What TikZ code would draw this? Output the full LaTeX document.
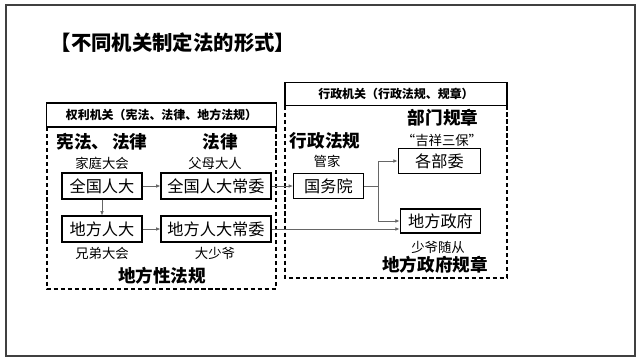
\documentclass[tikz,border=0pt]{standalone}
\usepackage{fontspec}
\setmainfont{Noto Sans CJK SC}
\usetikzlibrary{arrows.meta}
\tikzset{
  box/.style={draw,line width=0.8pt,inner sep=0pt,minimum height=0.65cm,font=\fontsize{11.5}{14}\selectfont},
  head/.style={draw,line width=0.8pt,inner sep=0pt,font=\bfseries\fontsize{8.5}{10}\selectfont},
  lab/.style={font=\fontsize{9.5}{11}\selectfont},
  kai/.style={font=\bfseries\fontsize{12.5}{14}\selectfont},
  link/.style={draw=black!60,line width=0.5pt,-{Latex[length=3pt,width=2.6pt]}},
  zone/.style={line width=0.8pt,dash pattern=on 3pt off 2pt}
}
\begin{document}
\begin{tikzpicture}[x=0.025cm,y=-0.025cm]
    \useasboundingbox (0,0) rectangle (640,362);
    \draw [line width=1.2pt,black!75] (6,5) rectangle (635,356);
    \node [font=\bfseries\fontsize{14.5}{17}\selectfont] (title) at (173,43) {【不同机关制定法的形式】};

    % left: power organs
    \node [head,minimum width=5.75cm,minimum height=0.6cm] (lhead) at (161.5,115) {权利机关（宪法、法律、地方法规）};
    \draw [zone] (47,127) -- (47,289) -- (276,289) -- (276,127);
    \node [kai] (xf) at (102,142) {宪法、\,法律};
    \node [kai] (fl) at (220,142) {法律};
    \node [lab] (jt) at (102,163) {家庭大会};
    \node [lab] (fm) at (215,163) {父母大人};
    \node [box,minimum width=2cm] (qgrd) at (102,186) {全国人大};
    \node [box,minimum width=2.75cm] (qgcw) at (216,186) {全国人大常委};
    \node [box,minimum width=2cm] (dfrd) at (102,229) {地方人大};
    \node [box,minimum width=2.75cm] (dfcw) at (216,229) {地方人大常委};
    \node [lab] (xd) at (102,253) {兄弟大会};
    \node [lab] (dsy) at (215,253) {大少爷};
    \node [kai] (dfx) at (162,276) {地方性法规};

    % right: administrative organs
    \node [head,minimum width=5.55cm,minimum height=0.58cm] (rhead) at (396,94) {行政机关（行政法规、规章）};
    \draw [zone] (285,106) -- (285,278) -- (507,278) -- (507,106);
    \node [kai] (xz) at (325,141) {行政法规};
    \node [lab] (gj) at (327,161) {管家};
    \node [kai] (bm) at (443,118) {部门规章};
    \node [lab] (jx) at (442,140) {“吉祥三保”};
    \node [box,minimum width=1.75cm,minimum height=0.63cm] (gwy) at (328.5,186) {国务院};
    \node [box,minimum width=2.07cm,minimum height=0.63cm] (gbw) at (439.5,161) {各部委};
    \node [box,minimum width=2.02cm,minimum height=0.6cm] (dfzf) at (440.5,221) {地方政府};
    \node [lab] (sy) at (438,247) {少爷随从};
    \node [kai] (dfzg) at (435,265) {地方政府规章};

    \draw [link] (qgrd) -- (qgcw);
    \draw [link] (qgrd) -- (dfrd);
    \draw [link] (dfrd) -- (dfcw);
    \draw [link] (qgcw) -- (gwy);
    \draw [draw=black!60,line width=0.5pt] (gwy.east) -- ++(14,0) coordinate (br);
    \draw [link] (br) |- (gbw.west);
    \draw [link] (br) |- (dfzf.west);
    \draw [link] (dfcw.east) -- (dfcw.east -| dfzf.west);
\end{tikzpicture}
\end{document}
